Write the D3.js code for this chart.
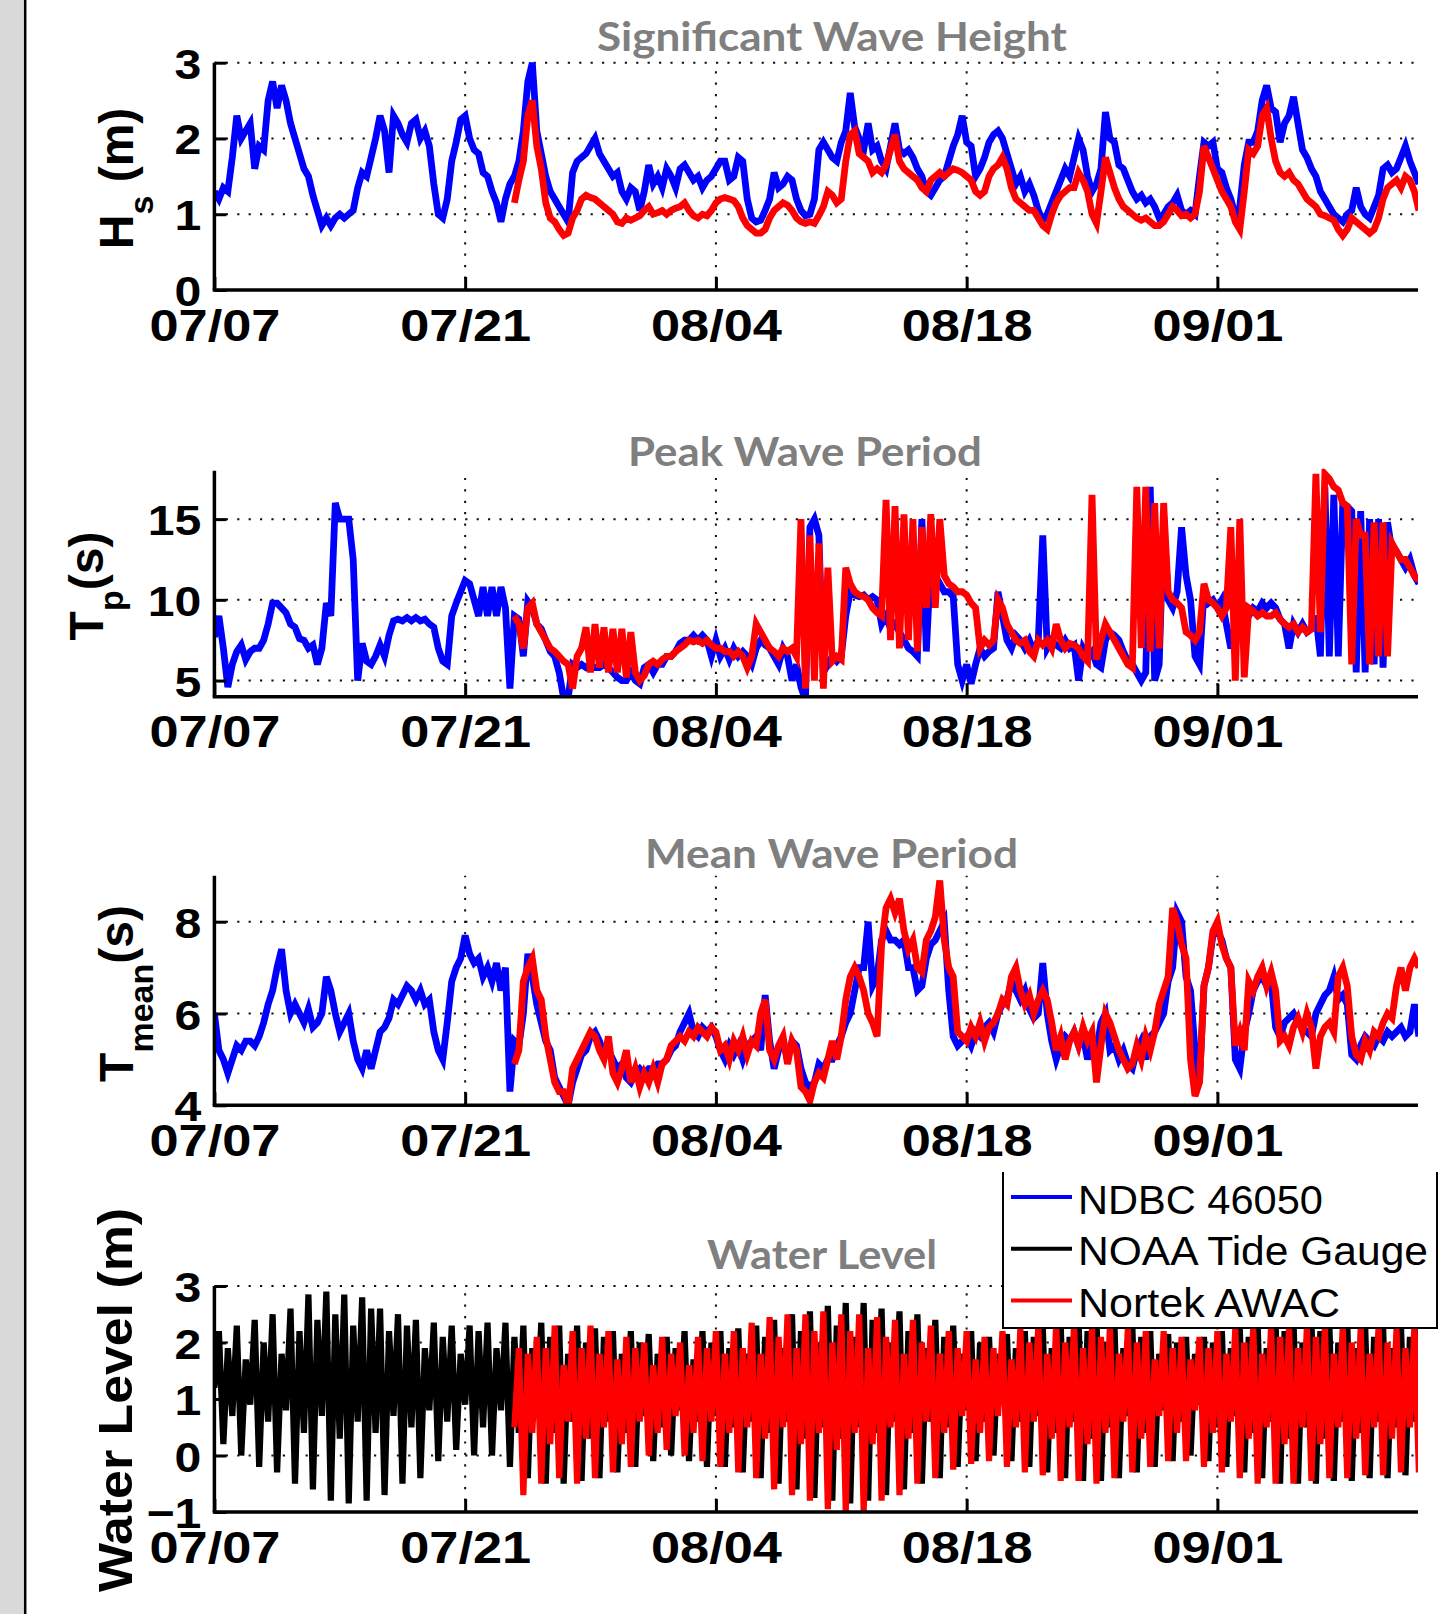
<!DOCTYPE html>
<html>
<head>
<meta charset="utf-8">
<script src="https://cdn.jsdelivr.net/npm/d3@7"></script>
<style>
  html, body { margin: 0; padding: 0; background: #fff; }
  svg { display: block; }
</style>
</head>
<body>
<svg id="fig" width="1441" height="1614"></svg>
<script>
// ---------------------------------------------------------------
// Data: all series sampled every 6 h starting 07/07 00:00 UTC.
// AWAC records start later (sample index awacStartIndex).
// ---------------------------------------------------------------
const startDay = "2013-07-07";
const stepHours = 6;
const awacStartIndex = 67;

const dateTicks = ["07/07", "07/21", "08/04", "08/18", "09/01"];
const hsTicks = [0, 1, 2, 3];
const tpTicks = [5, 10, 15];
const tmTicks = [4, 6, 8];
const wlTicks = [-1, 0, 1, 2, 3];

const legendNames = ["NDBC 46050", "NOAA Tide Gauge", "Nortek AWAC"];

// Significant wave height (m)
const hsNdbc = [
  1.3,1.2,1.35,1.3, 1.75,2.3,2.0,2.1, 2.2,1.6,1.9,1.85, 2.5,2.75,2.4,2.7,
  2.5,2.2,2.0,1.8, 1.6,1.5,1.25,1.05, 0.85,0.95,0.85,0.95, 1.0,0.95,1.0,1.05,
  1.35,1.55,1.5,1.75, 2.0,2.3,2.1,1.55, 2.3,2.2,2.05,1.95, 2.2,2.25,2.0,2.1,
  1.9,1.4,1.0,0.95, 1.2,1.7,1.95,2.25, 2.3,2.0,1.85,1.8, 1.55,1.5,1.3,1.15,
  0.9,1.2,1.4,1.5, 1.7,2.1,2.75,3.0, 2.1,1.8,1.5,1.3, 1.2,1.1,1.0,0.9,
  1.55,1.7,1.75,1.8, 1.9,2.0,1.8,1.7, 1.6,1.5,1.55,1.3, 1.2,1.35,1.3,1.05,
  1.3,1.65,1.4,1.5, 1.35,1.6,1.5,1.35, 1.6,1.65,1.55,1.45, 1.5,1.35,1.45,1.5,
  1.6,1.7,1.7,1.45, 1.5,1.75,1.7,1.2, 0.95,0.9,0.92,1.05, 1.2,1.55,1.35,1.4,
  1.5,1.45,1.2,1.05, 0.98,1.0,1.2,1.85, 1.95,1.85,1.75,1.7, 1.95,2.1,2.6,2.15,
  2.0,1.85,2.2,1.85, 1.9,1.7,1.6,1.9, 2.2,1.85,1.8,1.85, 1.75,1.6,1.5,1.3,
  1.25,1.35,1.45,1.5, 1.7,1.9,2.05,2.3, 1.95,1.9,1.5,1.6, 1.75,1.95,2.05,2.1,
  2.0,1.8,1.6,1.4, 1.5,1.3,1.4,1.25, 1.05,0.92,1.0,1.15, 1.3,1.45,1.6,1.5,
  1.75,2.0,1.85,1.5, 1.3,1.4,1.6,2.35, 2.0,1.95,1.65,1.6, 1.45,1.3,1.2,1.25,
  1.15,1.2,1.1,0.95, 1.0,1.1,1.15,1.25, 1.05,1.0,1.05,1.0, 1.5,1.95,1.9,1.95,
  1.6,1.55,1.35,1.2, 0.98,1.1,1.65,1.95, 1.95,2.1,2.5,2.7, 2.4,2.35,1.95,2.2,
  2.3,2.55,2.2,1.85, 1.75,1.6,1.5,1.3, 1.2,1.1,1.0,0.95, 0.9,1.0,1.05,1.35,
  1.1,1.0,0.95,1.1, 1.25,1.6,1.65,1.55, 1.6,1.75,1.9,1.7, 1.55,1.4
];
const hsAwac = [
  1.15,
  1.45,1.7,2.3,2.5, 1.9,1.6,1.15,0.95, 0.9,0.8,0.72,0.75, 0.95,1.05,1.2,1.25,
  1.22,1.2,1.15,1.1, 1.05,1.0,0.9,0.88, 0.95,0.92,0.95,0.98, 1.05,1.1,1.0,1.02,
  1.05,1.0,1.05,1.08, 1.1,1.15,1.05,0.98, 0.95,1.0,0.98,1.05, 1.15,1.2,1.22,1.2,
  1.18,1.1,0.95,0.85, 0.8,0.75,0.75,0.8, 0.95,1.05,1.1,1.15, 1.12,1.05,0.95,0.9,
  0.88,0.9,0.88,0.98, 1.1,1.3,1.25,1.15, 1.2,1.7,2.05,2.1, 1.8,1.75,1.7,1.55,
  1.6,1.55,1.65,1.85, 2.05,1.7,1.6,1.55, 1.5,1.45,1.35,1.3, 1.45,1.5,1.55,1.5,
  1.55,1.6,1.58,1.55, 1.5,1.45,1.3,1.25, 1.3,1.5,1.6,1.65, 1.75,1.6,1.35,1.2,
  1.15,1.1,1.05,1.05, 0.95,0.85,0.8,1.0, 1.15,1.25,1.3,1.35, 1.35,1.55,1.45,1.3,
  1.0,0.88,1.3,1.75, 1.55,1.35,1.2,1.1, 1.05,1.0,0.95,0.92, 0.95,0.9,0.85,0.85,
  0.9,1.0,1.1,1.05, 0.98,1.0,0.95,1.0, 1.3,1.9,1.75,1.6, 1.45,1.3,1.2,1.1,
  0.9,0.8,1.3,1.85, 1.8,1.9,2.3,2.4, 2.0,1.7,1.55,1.5, 1.55,1.45,1.4,1.3,
  1.2,1.15,1.1,1.0, 0.98,0.95,0.92,0.8, 0.72,0.8,0.95,0.9, 0.85,0.8,0.75,0.8,
  0.95,1.2,1.35,1.4, 1.45,1.35,1.5,1.45, 1.3,1.05
];

// Peak wave period (s)
const tpNdbc = [
  7.7,9.0,7.0,4.6, 6.0,6.8,7.2,6.3, 6.8,7.0,7.0,7.5, 8.5,9.8,9.8,9.5,
  9.2,8.5,8.3,7.6, 7.5,7.0,7.2,6.0, 7.0,9.8,9.0,16.0, 15.0,15.0,15.0,12.5,
  5.0,7.3,6.2,6.0, 6.5,7.2,6.5,7.8, 8.7,8.8,8.7,8.9, 8.7,8.9,8.7,8.8,
  8.5,8.3,7.0,6.2, 6.0,9.0,9.8,10.5, 11.2,11.0,10.0,9.0, 10.8,9.0,10.8,9.0,
  10.8,9.5,4.5,9.0, 8.8,6.5,9.9,9.5, 8.5,8.2,7.5,6.8, 6.5,5.5,3.9,3.9,
  6.0,5.8,6.0,5.8, 6.0,5.8,5.8,6.0, 5.8,5.5,5.2,5.0, 5.0,5.5,5.0,4.8,
  5.8,6.0,5.5,6.0, 6.0,6.5,6.5,6.8, 7.3,7.5,7.5,7.8, 7.5,7.8,7.5,6.5,
  7.5,6.5,7.0,6.3, 7.0,6.5,6.8,6.5, 6.0,7.0,7.5,7.2, 7.0,6.5,6.0,7.0,
  6.5,5.0,6.0,4.6, 3.8,14.5,15.0,14.0, 5.5,6.0,6.5,6.2, 6.5,9.0,10.5,10.3,
  10.2,10.3,10.0,10.2, 10.0,8.5,9.0,8.2, 8.5,8.0,7.5,7.0, 6.8,6.5,15.0,6.8,
  12.5,11.5,11.0,10.5, 10.5,10.2,6.0,5.0, 6.0,4.8,6.0,7.0, 6.5,6.8,7.0,10.5,
  9.0,7.5,7.0,7.8, 7.5,7.0,7.5,6.8, 7.5,14.0,7.0,7.5, 7.2,7.0,7.5,7.0,
  7.2,5.0,7.0,6.5, 6.8,6.0,5.8,7.5, 8.0,7.8,7.5,6.8, 6.2,6.0,5.5,5.0,
  5.5,17.0,5.0,6.0, 15.0,10.0,9.5,10.5, 14.5,11.5,10.0,6.5, 6.0,10.5,9.8,10.0,
  9.5,10.0,8.5,7.0, 8.0,9.2,9.5,9.0, 9.5,9.3,9.8,9.5, 9.8,9.5,8.8,8.5,
  7.0,8.5,8.0,8.5, 8.0,8.2,9.0,6.5, 17.0,6.5,16.5,6.5, 16.0,15.8,15.5,5.5,
  15.5,5.5,15.0,6.0, 15.0,5.8,14.8,13.0, 13.0,12.5,12.0,12.5, 11.5,11.0
];
const tpAwac = [
  9.0,
  8.5,7.0,9.5,9.8, 8.5,8.0,7.5,7.0, 6.8,6.5,6.2,6.0, 4.5,6.5,7.0,8.3,
  5.5,8.5,5.8,8.3, 5.5,8.2,5.5,8.2, 5.2,8.0,5.5,5.0, 5.3,6.0,6.2,6.0,
  6.3,6.5,6.5,6.8, 7.0,7.2,7.5,7.4, 7.5,7.3,7.5,7.2, 7.0,7.0,6.8,6.8,
  6.5,6.8,6.5,5.8, 6.5,8.5,8.0,7.5, 7.0,6.8,6.5,7.0, 6.8,7.0,6.5,15.0,
  4.5,14.0,5.0,13.5, 4.5,12.0,6.2,6.5, 6.3,12.0,11.0,10.5, 10.3,10.2,10.0,9.5,
  9.2,9.0,16.2,7.5, 15.8,7.0,15.3,7.5, 15.0,6.8,14.5,9.5, 15.3,9.5,15.0,11.5,
  11.0,10.8,10.5,10.5, 10.3,9.8,9.5,7.0, 7.5,7.2,7.5,10.0, 9.5,8.5,8.0,7.5,
  7.3,7.5,6.8,6.5, 7.5,7.2,7.5,7.0, 8.5,7.5,7.0,7.3, 7.2,7.0,6.5,6.2,
  16.5,6.3,7.5,8.5, 8.0,7.5,7.0,6.5, 6.0,5.8,17.0,7.0, 17.0,6.8,16.0,7.0,
  16.0,10.5,10.0,9.8, 9.5,8.0,7.8,7.5, 8.0,11.0,10.0,9.8, 9.5,9.0,9.5,14.5,
  5.0,15.0,5.2,9.5, 9.3,9.0,9.2,9.0, 9.0,9.2,8.8,8.5, 8.3,8.5,8.0,8.3,
  8.0,8.2,17.8,8.0, 17.8,17.5,17.0,16.8, 16.0,15.8,6.0,15.0, 14.0,14.0,6.0,14.8,
  6.5,14.8,6.5,13.5, 13.0,12.5,12.5,12.0, 11.5,11.2
];

// Mean wave period (s)
const tmNdbc = [
  6.0,5.2,5.0,4.7, 5.0,5.3,5.2,5.4, 5.4,5.3,5.5,5.8, 6.2,6.5,7.0,7.4,
  6.5,6.0,6.2,6.0, 5.8,6.1,5.7,5.8, 6.0,6.8,6.5,6.0, 5.6,5.8,6.0,5.4,
  5.0,4.8,5.2,4.8, 5.2,5.6,5.7,5.9, 6.3,6.2,6.4,6.6, 6.5,6.3,6.5,6.2,
  6.3,5.6,5.2,5.0, 5.8,6.7,7.0,7.2, 7.7,7.3,7.1,7.2, 6.8,7.0,6.7,7.1,
  6.5,7.0,4.3,5.4, 5.3,6.0,7.3,6.8, 6.2,5.8,5.4,5.2, 4.6,4.4,4.2,4.0,
  4.5,4.8,5.1,5.2, 5.5,5.6,5.4,5.1, 5.2,5.0,4.8,4.9, 4.6,4.5,4.7,4.8,
  4.7,4.8,4.8,4.9, 4.9,5.0,5.2,5.3, 5.6,5.8,6.0,5.6, 5.5,5.7,5.6,5.7,
  5.5,5.2,5.0,5.3, 5.1,5.3,5.0,5.3, 5.4,5.5,5.2,6.4, 5.4,4.8,5.2,5.4,
  5.0,5.4,5.3,4.8, 4.5,4.4,4.5,4.9, 4.8,5.0,5.0,5.3, 5.5,5.8,6.0,6.5,
  7.0,7.0,8.0,6.6, 6.8,7.6,7.8,7.6, 7.6,7.5,7.6,7.0, 7.0,6.5,6.6,7.2,
  7.5,7.6,7.8,8.0, 6.5,5.5,5.3,5.4, 5.5,5.3,5.6,5.5, 5.7,5.8,5.6,6.0,
  6.2,6.3,6.7,6.5, 6.3,6.5,6.1,5.9, 6.0,7.1,6.0,5.4, 5.0,5.3,5.5,5.4,
  5.6,5.3,5.5,5.0, 5.4,5.2,5.8,6.0, 5.2,5.3,5.0,5.2, 4.9,4.8,5.2,5.4,
  5.0,5.5,5.6,5.8, 6.0,6.7,7.0,8.2, 8.0,6.8,6.5,5.2, 4.5,6.6,7.0,7.7,
  7.8,7.6,7.2,7.0, 5.0,4.8,5.6,6.0, 6.5,6.7,6.8,6.6, 6.7,5.7,5.5,5.8,
  5.9,6.0,5.8,5.7, 5.6,5.5,6.0,6.2, 6.4,6.5,6.8,6.3, 6.4,6.2,5.1,5.0,
  5.3,5.5,5.4,5.3, 5.5,5.4,5.6,5.5, 5.6,5.7,5.5,5.6, 6.2,5.5
];
const tmAwac = [
  4.9,
  5.2,6.7,7.0,7.2, 6.5,6.3,5.5,5.0, 4.5,4.3,4.3,4.0, 4.8,5.0,5.2,5.4,
  5.6,5.5,5.2,5.0, 5.5,4.7,4.5,4.8, 5.2,4.5,4.8,4.4, 4.7,4.5,4.8,4.5,
  4.9,5.0,5.3,5.4, 5.5,5.4,5.6,5.5, 5.7,5.6,5.5,5.7, 5.6,5.2,5.3,5.0,
  5.4,5.2,5.5,5.1, 5.4,5.3,6.0,6.3, 5.2,5.0,5.3,5.5, 4.9,5.4,5.2,4.4,
  4.3,4.1,4.5,4.7, 4.6,5.0,5.4,5.0, 5.5,6.3,6.8,7.0, 6.8,6.5,6.0,5.8,
  5.5,7.5,8.3,8.5, 8.2,8.5,7.8,7.4, 7.6,7.0,6.9,7.6, 7.8,8.1,8.9,7.6,
  7.0,6.8,5.6,5.5, 5.4,5.7,5.5,5.8, 5.4,5.7,5.8,6.0, 6.3,6.2,6.8,7.0,
  6.5,6.2,6.4,6.0, 6.3,6.5,6.3,5.8, 5.2,5.5,5.0,5.4, 5.6,5.3,5.7,5.4,
  5.6,4.5,5.3,6.0, 5.8,5.5,5.2,5.0, 4.8,4.9,5.3,5.0, 5.5,5.2,5.6,6.2,
  6.5,6.8,8.3,8.0, 7.5,7.2,5.0,4.2, 4.5,6.6,7.0,7.8, 8.0,7.5,7.2,7.0,
  5.3,5.6,5.2,6.7, 6.5,6.8,7.0,6.6, 6.9,6.5,5.4,5.5, 5.3,5.7,5.9,5.6,
  6.0,5.7,4.8,5.5, 5.7,5.8,5.6,6.8, 7.0,6.6,5.5,5.1, 5.0,5.4,5.2,5.6,
  5.5,5.8,6.0,5.9, 6.6,7.0,6.5,7.0, 7.2,7.0
];

// Water level (m): successive tidal highs and lows
const wlNoaa = [
  1.2,
  2.2,0.2,1.9,0.7, 2.3,0.0,1.7,0.9, 2.4,-0.2,2.0,0.6, 2.5,-0.3,1.8,0.8,
  2.6,-0.5,2.2,0.4, 2.85,-0.6,2.4,0.7, 2.9,-0.8,2.5,0.3, 2.85,-0.85,2.3,0.6,
  2.8,-0.8,2.6,0.4, 2.6,-0.7,2.2,0.7, 2.5,-0.5,2.3,0.5, 2.4,-0.4,1.9,0.8,
  2.35,-0.1,2.1,0.6, 2.3,0.1,1.8,0.9, 2.3,0.0,2.2,0.5, 2.35,0.0,1.9,0.8,
  2.35,-0.2,2.1,0.4, 2.3,-0.4,1.9,0.7, 2.35,-0.5,2.1,0.4, 2.3,-0.5,1.8,0.6,
  2.3,-0.45,2.0,0.3, 2.25,-0.4,2.1,0.6, 2.2,-0.3,1.8,0.4, 2.2,-0.2,2.0,0.7,
  2.15,-0.1,1.8,0.5, 2.1,0.0,1.9,0.8, 2.2,-0.1,1.7,0.6, 2.2,-0.2,2.0,0.7,
  2.2,-0.2,1.9,0.5, 2.25,-0.3,1.8,0.6, 2.3,-0.4,2.1,0.4, 2.4,-0.5,1.9,0.6,
  2.5,-0.6,2.2,0.3, 2.55,-0.75,2.0,0.5, 2.65,-0.8,2.3,0.3, 2.7,-0.85,2.1,0.5,
  2.7,-0.8,2.4,0.4, 2.6,-0.7,2.0,0.6, 2.55,-0.6,2.2,0.4, 2.5,-0.5,1.9,0.6,
  2.4,-0.4,2.1,0.5, 2.3,-0.2,1.8,0.8, 2.2,-0.1,2.0,0.6, 2.1,0.0,1.8,0.9,
  2.15,-0.1,1.9,0.6, 2.2,-0.2,2.1,0.7, 2.3,-0.3,1.9,0.4, 2.35,-0.4,2.1,0.6,
  2.4,-0.45,2.2,0.3, 2.4,-0.45,2.0,0.5, 2.35,-0.4,1.9,0.7, 2.3,-0.3,2.1,0.4,
  2.2,-0.2,1.8,0.8, 2.15,-0.1,2.0,0.6, 2.1,0.0,1.8,0.9, 2.1,-0.1,2.0,0.5,
  2.2,-0.2,1.9,0.7, 2.25,-0.3,2.1,0.4, 2.3,-0.4,1.9,0.6, 2.35,-0.5,2.2,0.3,
  2.4,-0.5,2.0,0.5, 2.4,-0.5,2.2,0.3, 2.35,-0.45,2.0,0.6, 2.35,-0.45,1.9,0.4,
  2.3,-0.4,2.1,0.6, 2.3,-0.4,1.9,0.5, 2.3,-0.35,2.1,0.6,
  2.3
];
const wlAwac = [
  0.5,
  1.9,-0.7,1.8,0.4, 2.1,-0.5,1.9,0.2, 2.3,-0.4,1.6,0.6, 2.2,-0.5,1.9,0.3,
  2.3,-0.4,1.8,0.5, 2.2,-0.3,1.7,0.2, 2.1,-0.2,1.9,0.6, 2.0,0.0,1.6,0.4,
  2.1,0.1,1.8,0.7, 2.0,0.0,1.6,0.4, 2.1,-0.1,1.9,0.6, 2.2,-0.2,1.8,0.4,
  2.2,-0.3,1.9,0.5, 2.35,-0.4,1.8,0.3, 2.45,-0.6,2.1,0.5, 2.5,-0.7,1.9,0.2,
  2.5,-0.8,2.2,0.4, 2.55,-0.95,2.0,0.1, 2.5,-1.0,2.2,0.4, 2.5,-1.0,1.9,0.2,
  2.45,-0.8,2.1,0.5, 2.4,-0.7,1.8,0.3, 2.4,-0.5,2.0,0.6, 2.3,-0.4,1.8,0.4,
  2.2,-0.25,1.9,0.7, 2.2,-0.15,1.7,0.4, 2.1,-0.1,1.9,0.7, 2.2,-0.2,1.7,0.5,
  2.25,-0.3,2.0,0.6, 2.3,-0.35,1.8,0.3, 2.35,-0.45,2.0,0.5, 2.35,-0.45,1.9,0.2,
  2.3,-0.5,2.1,0.4, 2.3,-0.4,1.8,0.6, 2.25,-0.3,2.0,0.3, 2.2,-0.2,1.7,0.7,
  2.2,-0.1,1.9,0.4, 2.1,-0.1,1.7,0.8, 2.1,-0.2,1.9,0.4, 2.2,-0.3,1.8,0.6,
  2.25,-0.4,2.0,0.3, 2.3,-0.5,1.8,0.5, 2.3,-0.5,2.1,0.2, 2.3,-0.5,1.9,0.5,
  2.3,-0.45,2.1,0.2, 2.3,-0.4,1.8,0.5, 2.3,-0.4,2.0,0.3, 2.25,-0.35,1.8,0.5,
  2.3,-0.35,2.0,0.3, 2.25,-0.3,1.9,0.5,
  2.3,-0.3
];

// ---------------------------------------------------------------
// Layout
// ---------------------------------------------------------------
const W = 1441, H = 1614;
const xLeft = 214.4, xRight = 1418;
const BLUE = "#0000ff", RED = "#ff0000", BLACK = "#000000";
const TITLE_GRAY = "#7f7f7f";

const t0 = d3.utcParse("%Y-%m-%d")(startDay);
const timeAt = (i) => new Date(t0.getTime() + i * stepHours * 3600e3);
const tickDates = dateTicks.map(s => d3.utcParse("%Y/%m/%d")("2013/" + s));

const x = d3.scaleUtc()
  .domain([t0, new Date(t0.getTime() + 67.2 * 86400e3)])
  .range([xLeft, xRight]);

const panels = [
  {
    title: "Significant Wave Height", domain: [0, 3], ticks: hsTicks,
    top: 62.7, bottom: 290, titleSpan: [597, 1067], titleBase: 51,
    label: [{ t: "H" }, { t: "s", sub: true }, { t: " (m)" }], labelX: 133, labelY: 178.5,
    series: [{ v: hsNdbc, i0: 0, c: BLUE }, { v: hsAwac, i0: awacStartIndex, c: RED }],
    width: 6.8
  },
  {
    title: "Peak Wave Period", domain: [4, 18], ticks: tpTicks,
    top: 470.7, bottom: 696.7, titleSpan: [628, 982], titleBase: 466,
    label: [{ t: "T" }, { t: "p", sub: true }, { t: "(s)" }], labelX: 103, labelY: 586,
    series: [{ v: tpNdbc, i0: 0, c: BLUE }, { v: tpAwac, i0: awacStartIndex, c: RED }],
    width: 6.8
  },
  {
    title: "Mean Wave Period", domain: [4, 9], ticks: tmTicks,
    top: 875.8, bottom: 1105.3, titleSpan: [645, 1018], titleBase: 868,
    label: [{ t: "T" }, { t: "mean", sub: true }, { t: "(s)" }], labelX: 133, labelY: 993.5,
    series: [{ v: tmNdbc, i0: 0, c: BLUE }, { v: tmAwac, i0: awacStartIndex, c: RED }],
    width: 6.8
  },
  {
    title: "Water Level", domain: [-1, 3], ticks: wlTicks,
    top: 1286, bottom: 1512, titleSpan: [707, 937], titleBase: 1269,
    label: [{ t: "Water Level (m)" }], labelX: 132, labelY: 1400, labelLength: 384,
    series: [{ v: wlNoaa, i0: 0, c: BLACK }, { v: wlAwac, i0: awacStartIndex, c: RED }],
    width: 6.2
  }
];

const svg = d3.select("#fig");
svg.append("rect").attr("width", W).attr("height", H).attr("fill", "#fff");

// grey strip at the left edge of the figure
svg.append("rect").attr("x", 0).attr("y", 0).attr("width", 24).attr("height", H).attr("fill", "#d9d9d9");
svg.append("line").attr("x1", 25.2).attr("x2", 25.2).attr("y1", 0).attr("y2", H)
  .attr("stroke", "#000").attr("stroke-width", 2.5);

const defs = svg.append("defs");

panels.forEach((p, k) => {
  const y = d3.scaleLinear().domain(p.domain).range([p.bottom, p.top]);
  const g = svg.append("g").attr("class", "panel");

  // dotted grid
  const grid = g.append("g").attr("stroke", "#111").attr("stroke-width", 2)
    .attr("stroke-dasharray", "2.2,9.2").attr("fill", "none");
  p.ticks.forEach(v => {
    grid.append("line").attr("x1", xLeft).attr("x2", xRight)
      .attr("y1", y(v)).attr("y2", y(v));
  });
  tickDates.slice(1).forEach(d => {
    grid.append("line").attr("x1", x(d)).attr("x2", x(d))
      .attr("y1", p.bottom).attr("y2", p.top);
  });

  // data, clipped to the axes box
  const clipId = "clip" + k;
  defs.append("clipPath").attr("id", clipId).append("rect")
    .attr("x", xLeft).attr("y", p.top - 2)
    .attr("width", xRight - xLeft).attr("height", p.bottom - p.top + 2);

  const line = d3.line().x(d => x(d[0])).y(d => y(d[1]));
  const plot = g.append("g").attr("clip-path", `url(#${clipId})`);
  p.series.forEach(s => {
    const pts = s.v.map((v, i) => [timeAt(s.i0 + i), v]);
    plot.append("path").datum(pts).attr("d", line)
      .attr("fill", "none").attr("stroke", s.c)
      .attr("stroke-width", p.width).attr("stroke-linejoin", "miter");
  });

  // axes (left + bottom, ticks pointing inward)
  const yAxis = d3.axisLeft(y).tickValues(p.ticks).tickSize(-12).tickSizeOuter(0)
    .tickPadding(13).tickFormat(d3.format("d"));
  const ya = g.append("g").attr("transform", `translate(${xLeft},0)`).call(yAxis);

  const xAxis = d3.axisBottom(x).tickValues(tickDates).tickSize(-13).tickSizeOuter(0)
    .tickFormat((d, i) => dateTicks[i]);
  const xa = g.append("g").attr("transform", `translate(0,${p.bottom})`).call(xAxis);

  [ya, xa].forEach(a => {
    a.select(".domain").attr("stroke", "#000").attr("stroke-width", 3.5);
    a.selectAll(".tick line").attr("stroke", "#000").attr("stroke-width", 3);
    a.selectAll(".tick text")
      .attr("fill", "#000")
      .attr("font-family", "'Liberation Sans', Arial, sans-serif")
      .attr("font-weight", "bold");
  });
  ya.select(".domain").attr("d", `M0,${p.top}V${p.bottom}`);
  xa.select(".domain").attr("d", `M${xLeft - 1.7},0H${xRight}`);

  ya.selectAll(".tick text")
    .attr("font-size", 43).attr("dy", null).attr("y", 15.5)
    .each(function () {
      const n = this.getComputedTextLength();
      d3.select(this).attr("textLength", n * 1.12).attr("lengthAdjust", "spacingAndGlyphs");
    });
  xa.selectAll(".tick text")
    .attr("font-size", 44).attr("dy", null).attr("y", 50.5)
    .attr("textLength", 131).attr("lengthAdjust", "spacingAndGlyphs");

  // panel title
  g.append("text")
    .attr("x", p.titleSpan[0]).attr("y", p.titleBase)
    .attr("textLength", p.titleSpan[1] - p.titleSpan[0]).attr("lengthAdjust", "spacingAndGlyphs")
    .attr("font-family", "Lato, 'Open Sans', sans-serif").attr("font-weight", 700)
    .attr("font-size", 40).attr("fill", TITLE_GRAY)
    .text(p.title);

  // y-axis label, rotated, with subscripts
  const lab = g.append("text")
    .attr("transform", `translate(${p.labelX},${p.labelY}) rotate(-90)`)
    .attr("text-anchor", "middle")
    .attr("font-family", "'Liberation Sans', Arial, sans-serif")
    .attr("font-weight", "bold").attr("fill", "#000");
  if (p.labelLength) lab.attr("textLength", p.labelLength).attr("lengthAdjust", "spacingAndGlyphs");
  let shifted = false;
  p.label.forEach(part => {
    const ts = lab.append("tspan").text(part.t);
    if (part.sub) { ts.attr("font-size", 34).attr("dy", 20); shifted = true; }
    else {
      ts.attr("font-size", 48);
      if (shifted) { ts.attr("dy", -20); shifted = false; }
    }
  });
});

// legend box (drawn over the bottom panel)
const legendColors = [BLUE, BLACK, RED];
const lg = svg.append("g");
const lx0 = 1003, lx1 = 1437, ly0 = 1172, ly1 = 1328;
lg.append("rect").attr("x", lx0).attr("y", ly0).attr("width", lx1 - lx0).attr("height", ly1 - ly0)
  .attr("fill", "#fff");
lg.append("path").attr("d", `M${lx0},${ly0}V${ly1}H${lx1}V${ly0}`)
  .attr("fill", "none").attr("stroke", "#000").attr("stroke-width", 2);
const legendLens = [245, 350, 262];
legendNames.forEach((name, i) => {
  const base = 1213.5 + i * 51.7;
  lg.append("line").attr("x1", 1011).attr("x2", 1072)
    .attr("y1", base - 16.5).attr("y2", base - 16.5)
    .attr("stroke", legendColors[i]).attr("stroke-width", 4);
  lg.append("text").attr("x", 1078).attr("y", base)
    .attr("font-family", "'Liberation Sans', Arial, sans-serif")
    .attr("font-size", 40).attr("fill", "#000")
    .attr("textLength", legendLens[i]).attr("lengthAdjust", "spacingAndGlyphs")
    .text(name);
});
</script>
</body>
</html>
